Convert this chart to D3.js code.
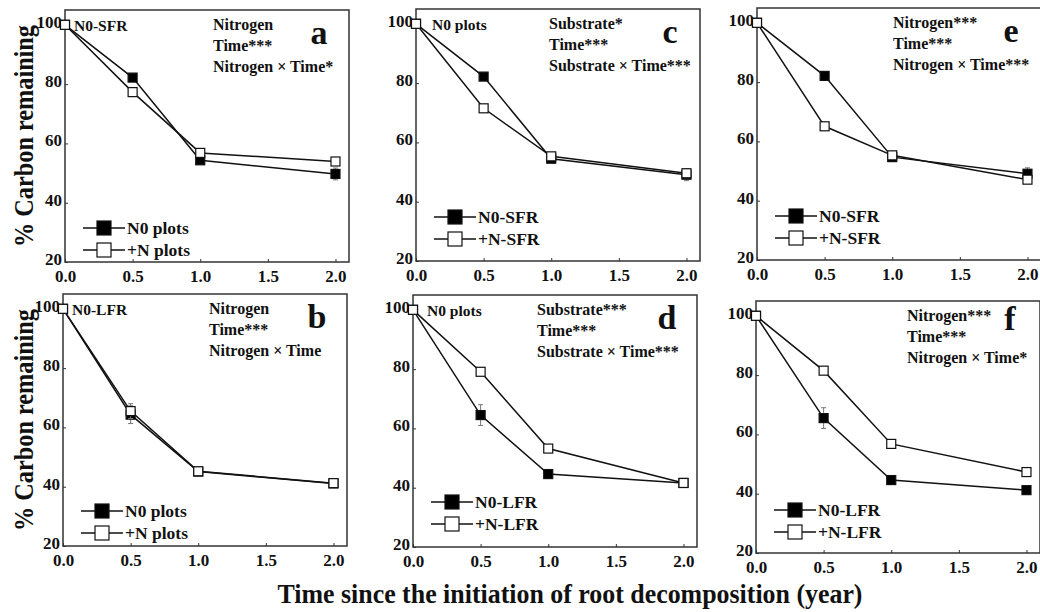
<!DOCTYPE html>
<html>
<head>
<meta charset="utf-8">
<script src="https://cdn.jsdelivr.net/npm/d3@7"></script>
<style>
  body { margin: 0; background: #fff; }
  text { font-family: "Liberation Serif", "Times New Roman", serif; font-weight: bold; fill: #111; }
</style>
</head>
<body>
<div id="chart"></div>
<script>
// sampling times (year)
var times = [0, 0.5, 1, 2];
var xTicks = [0, 0.5, 1, 1.5, 2];
var yTicks = [20, 40, 60, 80, 100];

// % carbon remaining
var a_N0 = [100, 82.2, 54.3, 49.7], a_N = [100, 77.3, 56.8, 53.9];
var a_N0err = [0.5, 1, 1, 2], a_Nerr = [0.5, 1.5, 1, 1];
var b_N0 = [100, 64.3, 45.1, 41.1], b_N = [100, 65.5, 45.2, 41.2];
var b_N0err = [0.5, 3, 0.8, 0.6], b_Nerr = [0.5, 2.5, 0.8, 0.6];
var c_N0 = [100, 82.2, 54.5, 49.1], c_N = [100, 71.5, 55.3, 49.6];
var c_N0err = [0.5, 1, 1, 2], c_Nerr = [0.5, 1, 0.8, 1.5];
var d_N0 = [100, 64.5, 44.6, 41.6], d_N = [100, 79.1, 53.2, 41.6];
var d_N0err = [0.5, 3.5, 1, 0.8], d_Nerr = [0.5, 1, 1, 1];
var e_N0 = [100, 82.1, 54.7, 49.1], e_N = [100, 65.1, 55.3, 47.1];
var e_N0err = [0.5, 1, 1, 2], e_Nerr = [0.5, 1, 1, 1];
var f_N0 = [100, 65.5, 44.6, 41.2], f_N = [100, 81.5, 56.8, 47.3];
var f_N0err = [0.5, 3.5, 0.8, 0.6], f_Nerr = [0.5, 1, 1, 1];

var legendA = ["N0 plots", "+N plots"];
var legendSFR = ["N0-SFR", "+N-SFR"];
var legendLFR = ["N0-LFR", "+N-LFR"];

var statsA = ["Nitrogen", "Time***", "Nitrogen \u00d7 Time*"];
var statsB = ["Nitrogen", "Time***", "Nitrogen \u00d7 Time"];
var statsC = ["Substrate*", "Time***", "Substrate \u00d7 Time***"];
var statsD = ["Substrate***", "Time***", "Substrate \u00d7 Time***"];
var statsE = ["Nitrogen***", "Time***", "Nitrogen \u00d7 Time***"];
var statsF = ["Nitrogen***", "Time***", "Nitrogen \u00d7 Time*"];

var w = 1040, h = 612;
var pw = 284, ph = 252;

// panel placement
var panels = [
  {id: "a", left: 65,  top: 10,  n0: a_N0, n: a_N, n0e: a_N0err, ne: a_Nerr, leg: legendA,   stats: statsA, corner: "N0-SFR",   cx: 9,  sx: 148, legY: 34, letterY: 34},
  {id: "c", left: 416, top: 9,   n0: c_N0, n: c_N, n0e: c_N0err, ne: c_Nerr, leg: legendSFR, stats: statsC, corner: "N0 plots", cx: 16, sx: 133, legY: 44, letterY: 34},
  {id: "e", left: 757, top: 8,   n0: e_N0, n: e_N, n0e: e_N0err, ne: e_Nerr, leg: legendSFR, stats: statsE, corner: "",         cx: 0,  sx: 136, legY: 44, letterY: 34},
  {id: "b", left: 63,  top: 294, n0: b_N0, n: b_N, n0e: b_N0err, ne: b_Nerr, leg: legendA,   stats: statsB, corner: "N0-LFR",   cx: 9,  sx: 146, legY: 35, letterY: 34},
  {id: "d", left: 413, top: 295, n0: d_N0, n: d_N, n0e: d_N0err, ne: d_Nerr, leg: legendLFR, stats: statsD, corner: "N0 plots", cx: 14, sx: 124, legY: 45, letterY: 34},
  {id: "f", left: 756, top: 301, n0: f_N0, n: f_N, n0e: f_N0err, ne: f_Nerr, leg: legendLFR, stats: statsF, corner: "",         cx: 0,  sx: 151, legY: 43, letterY: 29}
];

var svg = d3.select("#chart")
  .append("svg")
  .attr("width", w)
  .attr("height", h);

var x = d3.scaleLinear().domain([0, 2.1]).range([0, pw]);
var y = d3.scaleLinear().domain([20, 105]).range([ph, 0]);

var line = d3.line()
  .x(function(d) { return x(d[0]); })
  .y(function(d) { return y(d[1]); });

panels.forEach(function(p) {
  var g = svg.append("g").attr("transform", "translate(" + p.left + "," + p.top + ")");

  var xAxis = g.append("g")
    .attr("transform", "translate(0," + ph + ")")
    .call(d3.axisBottom(x).tickValues(xTicks).tickSize(-3).tickPadding(8).tickFormat(d3.format(".1f")));
  var yAxis = g.append("g")
    .call(d3.axisLeft(y).tickValues(yTicks).tickSize(-3).tickPadding(3).tickFormat(d3.format("d")));
  [xAxis, yAxis].forEach(function(ax) {
    ax.select(".domain").remove();
    ax.selectAll("line").attr("stroke", "#333");
    ax.selectAll("text").style("font-size", "17px").attr("fill", "#111");
  });
  yAxis.selectAll("text").attr("dy", "0.15em");

  g.append("rect")
    .attr("width", pw).attr("height", ph)
    .attr("fill", "none").attr("stroke", "#333").attr("stroke-width", 1.5);

  var series = [
    {vals: p.n0, err: p.n0e, fill: "#000"},
    {vals: p.n,  err: p.ne,  fill: "#fff"}
  ];

  series.forEach(function(s) {
    var pts = times.map(function(t, i) { return [t, s.vals[i], s.err[i]]; });
    g.append("path")
      .datum(pts)
      .attr("d", line)
      .attr("fill", "none")
      .attr("stroke", "#111")
      .attr("stroke-width", 1.5);

    var eb = g.selectAll(null).data(pts.slice(1)).enter().append("g").attr("stroke", "#777").attr("stroke-width", 1);
    eb.append("line")
      .attr("x1", function(d) { return x(d[0]); }).attr("x2", function(d) { return x(d[0]); })
      .attr("y1", function(d) { return y(d[1] + d[2]); }).attr("y2", function(d) { return y(d[1] - d[2]); });
    eb.append("line")
      .attr("x1", function(d) { return x(d[0]) - 2.5; }).attr("x2", function(d) { return x(d[0]) + 2.5; })
      .attr("y1", function(d) { return y(d[1] + d[2]); }).attr("y2", function(d) { return y(d[1] + d[2]); });
    eb.append("line")
      .attr("x1", function(d) { return x(d[0]) - 2.5; }).attr("x2", function(d) { return x(d[0]) + 2.5; })
      .attr("y1", function(d) { return y(d[1] - d[2]); }).attr("y2", function(d) { return y(d[1] - d[2]); });

    g.selectAll(null).data(pts).enter().append("rect")
      .attr("x", function(d) { return x(d[0]) - 4.5; })
      .attr("y", function(d) { return y(d[1]) - 4.5; })
      .attr("width", 9).attr("height", 9)
      .attr("fill", function(d, i) { return i === 0 ? "#fff" : s.fill; })
      .attr("stroke", "#111").attr("stroke-width", 1.2);
  });

  // legend
  p.leg.forEach(function(lab, i) {
    var ly = ph - p.legY + i * 22;
    g.append("line").attr("x1", 18).attr("x2", 60).attr("y1", ly).attr("y2", ly)
      .attr("stroke", "#111").attr("stroke-width", 1.5);
    g.append("rect").attr("x", 32).attr("y", ly - 7).attr("width", 14).attr("height", 14)
      .attr("fill", i === 0 ? "#000" : "#fff").attr("stroke", "#111").attr("stroke-width", 1.2);
    g.append("text").attr("x", 62).attr("y", ly + 6).style("font-size", "17.5px").text(lab);
  });

  if (p.corner) {
    g.append("text").attr("x", p.cx).attr("y", 21).style("font-size", "15.5px").text(p.corner);
  }

  p.stats.forEach(function(t, i) {
    g.append("text").attr("x", p.sx).attr("y", 20 + i * 21).style("font-size", "16px").text(t);
  });

  g.append("text").attr("x", 254).attr("y", p.letterY)
    .attr("text-anchor", "middle").style("font-size", "34px").text(p.id);
});

// shared axis titles
[136, 420].forEach(function(cy) {
  svg.append("text")
    .attr("transform", "translate(33," + cy + ") rotate(-90)")
    .attr("text-anchor", "middle")
    .attr("textLength", 222)
    .attr("lengthAdjust", "spacingAndGlyphs")
    .style("font-size", "27px")
    .text("% Carbon  remaining");
});

svg.append("text")
  .attr("x", 570).attr("y", 603)
  .attr("text-anchor", "middle")
  .attr("textLength", 585)
  .attr("lengthAdjust", "spacingAndGlyphs")
  .style("font-size", "28px")
  .text("Time since the initiation of root decomposition (year)");
</script>
</body>
</html>
